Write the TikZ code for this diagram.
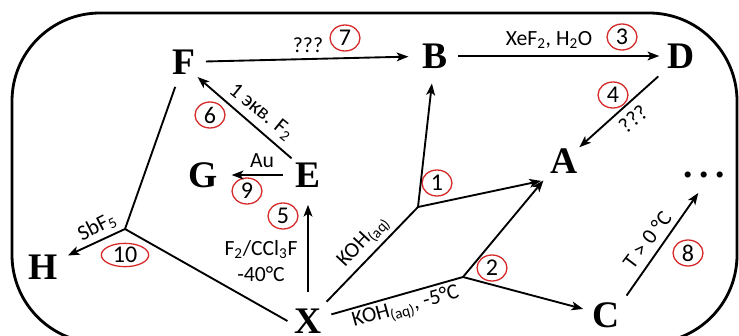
\documentclass[tikz,border=0pt]{standalone}
\usepackage{fontspec}
\setmainfont{Liberation Serif}
\newfontfamily\lblfont{Carlito}
\usetikzlibrary{arrows.meta,shapes.geometric}
\definecolor{circred}{HTML}{D62828}

\begin{document}
\begin{tikzpicture}[x={(0.03,0)}, y={(0,-0.03)}]
  \tikzstyle{letter} = [inner sep=0pt, outer sep=6pt, text depth=0pt, font=\fontsize{32}{32}\selectfont\bfseries];
  \tikzstyle{lbl} = [inner sep=1pt, font=\lblfont\fontsize{18.5}{22}\selectfont];
  \tikzstyle{num} = [draw=circred, line width=1.1pt, ellipse, inner sep=0pt, minimum width=0.9cm, minimum height=0.78cm, font=\lblfont\fontsize{20.5}{22}\selectfont];
  \tikzstyle{arr} = [line width=1.6pt, -{Stealth[length=10pt,width=7.5pt,inset=2.5pt]}];
  \tikzstyle{ln} = [line width=1.6pt];

  \useasboundingbox (0,0) rectangle (739,335);
  \clip (0,0) rectangle (739,335);
  % frame
  \draw[line width=2.4pt, rounded corners=2.64cm] (12,13) rectangle (737,343);

  % compounds
  \foreach \n/\x/\y in {F/184/62, B/435/56, D/681/56, A/564/161, G/203/175,
      E/308/175, H/43/267, X/308/321, C/606/315}
  {\node[letter] (\n) at (\x,\y) {\n};}
  \node[letter] (etc) at (704,175) {.\kern5.5pt.\kern5.5pt.};

  % branch points
  \coordinate (j1) at (418,207);
  \coordinate (j2) at (463,277);
  \coordinate (j3) at (125,229);

  % reaction numbers
  \foreach \t/\x/\y in {1/437/183, 2/492/268, 3/622/37, 4/613/95, 5/283/216,
      6/210/115, 7/345/38, 8/688/253, 9/247/191}
  {\node[num] (c\t) at (\x,\y) {\t};}
  \node[num, minimum width=1.42cm, minimum height=0.7cm] (c10) at (125,255) {10};

  % conditions
  \node[lbl] (l7) at (308,45) {???};
  \node[lbl] (l3) at (549,40) {XeF\textsubscript{2}, H\textsubscript{2}O};
  \node[lbl, rotate=39.5] (l4) at (633,119) {???};
  \node[lbl, rotate=-39] (l6) at (261,112) {1 экв. F\textsubscript{2}};
  \node[lbl] (l9) at (262,161) {Au};
  \node[lbl, align=center] (l5) at (261,261) {F\textsubscript{2}/CCl\textsubscript{3}F\\-40°C};
  \node[lbl, rotate=47] (l1) at (364,242) {KOH\textsubscript{(aq)}};
  \node[lbl, rotate=15.5] (l2) at (406,308) {KOH\textsubscript{(aq)}, -5°C};
  \node[lbl, rotate=53] (l8) at (647,240) {T > 0 °C};
  \node[lbl, rotate=27] (l10) at (97,227) {SbF\textsubscript{5}};

  % arrows
  \draw[arr, shorten <=3pt, shorten >=6pt] (F) -- (B);
  \draw[arr, shorten <=3pt, shorten >=1pt] (B) -- (D);
  \draw[arr, shorten <=2.5pt, shorten >=-6pt] (D) -- (A);
  \draw[ln] (X) -- (j1);
  \draw[arr, shorten >=7pt] (j1) -- (B);
  \draw[arr, shorten >=2pt] (j1) -- (A.south west);
  \draw[ln, shorten <=2.5pt] (X) -- (j2);
  \draw[arr] (j2) -- (A.south west);
  \draw[arr, shorten >=2pt] (j2) -- (C);
  \draw[arr, shorten <=8pt, shorten >=9pt] (X) -- (E);
  \draw[arr, shorten <=5pt, shorten >=6pt] (E) -- (G);
  \draw[arr, shorten <=-3.5pt, shorten >=-5.5pt] (E.north west) -- (F.south east);
  \draw[ln, shorten <=5pt] (F) -- (j3);
  \draw[ln] (j3) -- (X.west);
  \draw[arr, shorten >=3pt] (j3) -- (H);
  \draw[arr, shorten >=8.5pt] (C.north east) -- (etc.south);
\end{tikzpicture}
\end{document}
